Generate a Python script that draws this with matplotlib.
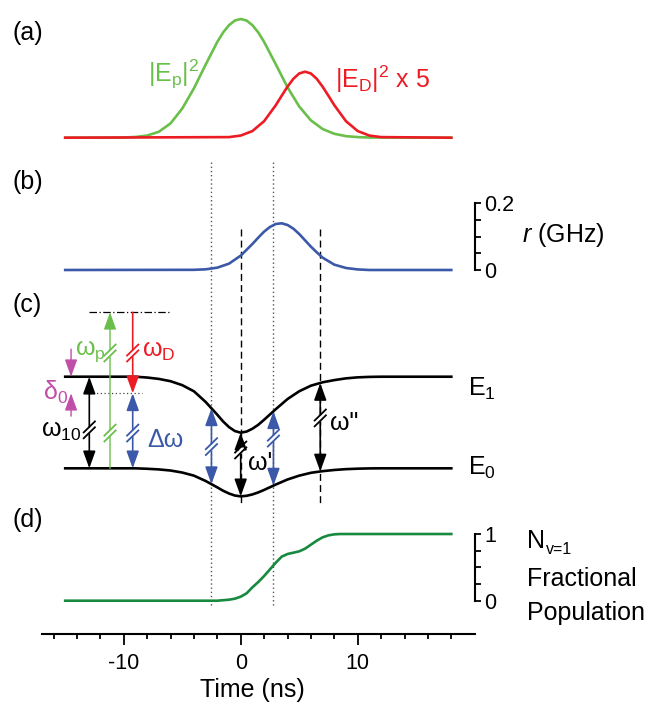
import numpy as np
import matplotlib
matplotlib.use("Agg")
import matplotlib.pyplot as plt

plt.rcParams["font.family"] = ["Liberation Sans", "DejaVu Sans"]
plt.rcParams["mathtext.fontset"] = "custom"
plt.rcParams["mathtext.rm"] = "Liberation Sans"
plt.rcParams["mathtext.it"] = "Liberation Sans:italic"
plt.rcParams["mathtext.bf"] = "Liberation Sans:bold"

# ---- data (time in ns) ----
# (a) pulse intensities, normalised to the pump peak
t_pump = [-15, -11, -10, -9, -8, -7, -6, -5, -4, -3, -2, -1.5, -1, -0.5, 0,
          0.5, 1, 1.5, 2, 3, 4, 5, 6, 7, 8, 9, 10, 11, 18]
pump = [0, 0.001, 0.002, 0.006, 0.018, 0.05, 0.12, 0.245, 0.415, 0.615, 0.807,
        0.887, 0.948, 0.987, 1.0, 0.987, 0.948, 0.887, 0.807, 0.618, 0.425, 0.263,
        0.146, 0.073, 0.033, 0.013, 0.005, 0.0015, 0]
t_dump = [-15, -1, 0, 1, 2, 3, 3.5, 4, 4.5, 5, 5.5, 6, 6.5, 7, 7.5, 8, 9, 10, 11, 12, 18]
dump = [0, 0.005, 0.018, 0.056, 0.139, 0.274, 0.353, 0.43, 0.496, 0.541, 0.556,
        0.541, 0.496, 0.43, 0.353, 0.274, 0.139, 0.056, 0.018, 0.005, 0]

# (b) r in GHz
t_r = [-15, -4, -3, -2, -1, 0, 1, 1.5, 2, 2.5, 3, 3.5, 4, 4.5, 5, 5.5, 6, 6.5, 7,
       8, 9, 10, 11, 18]
r_ghz = [0, 0.0005, 0.002, 0.007, 0.019, 0.043, 0.078, 0.097, 0.115, 0.129, 0.138,
         0.14, 0.135, 0.124, 0.108, 0.089, 0.07, 0.053, 0.037, 0.016, 0.006,
         0.0017, 0, 0]

# (c) dressed levels (E0 = 0, E1 = 1 far from the pulses)
t_lev = [-15, -9, -8, -7, -6, -5, -4, -3, -2, -1.5, -1, -0.5, 0, 0.5, 1, 1.5, 2,
         3, 4, 5, 6, 7, 8, 9, 10, 11, 12, 18]
e1 = [1.0, 1.0, 0.991, 0.976, 0.951, 0.908, 0.841, 0.725, 0.585, 0.511, 0.450,
      0.407, 0.389, 0.401, 0.432, 0.475, 0.530, 0.646, 0.756, 0.841, 0.902, 0.939,
      0.963, 0.982, 0.993, 0.998, 1.0, 1.0]
e0 = [0, 0, -0.005, -0.012, -0.024, -0.046, -0.080, -0.138, -0.208, -0.245, -0.275,
      -0.297, -0.306, -0.300, -0.285, -0.263, -0.236, -0.177, -0.122, -0.080,
      -0.049, -0.031, -0.018, -0.009, -0.004, -0.001, 0, 0]
photon_top = 1.703      # level reached by the pump photon
dump_level = 0.819      # level reached after the dump photon

# (d) fractional population of v=1
t_pop = [-15, -2, -1, -0.5, 0, 0.5, 1, 1.5, 2, 2.5, 3, 3.5, 4, 4.5, 5, 5.5, 6,
         6.5, 7, 7.5, 8, 8.5, 18]
pop = [0, 0, 0.015, 0.03, 0.06, 0.11, 0.2, 0.28, 0.37, 0.47, 0.57, 0.66, 0.7,
       0.72, 0.74, 0.78, 0.84, 0.9, 0.95, 0.98, 0.995, 1.0, 1.0]

time_major = [-10, 0, 10]
time_minor = list(range(-16, 19, 2))
dotted_t = [-2.5, 2.8]
dashed_t = [0, 6.8]

GREEN = "#6abf4b"
RED = "#ed1c24"
BLUE = "#3b59a8"
DKGREEN = "#178a3f"
MAGENTA = "#c04fa8"

W, H = 657, 716
fig = plt.figure(figsize=(W / 100, H / 100), dpi=100)

X0, X1 = 41.8, 474.7          # pixel span of t = -17 .. 20
TMIN, TMAX = -17, 20


def add_panel(top, bottom, y_at_bottom, y_at_top):
    ax = fig.add_axes([X0 / W, 1 - bottom / H, (X1 - X0) / W, (bottom - top) / H])
    ax.set_xlim(TMIN, TMAX)
    ax.set_ylim(y_at_bottom, y_at_top)
    ax.patch.set_alpha(0)
    for s in ax.spines.values():
        s.set_visible(False)
    ax.set_xticks([])
    ax.set_yticks([])
    return ax


def fig_text(x, y, s, **kw):
    fig.text(x / W, 1 - y / H, s, **kw)


# vertical guide lines span several panels -> own overlay axes in pixels
ax_v = fig.add_axes([X0 / W, 0, (X1 - X0) / W, 1])
ax_v.set_xlim(TMIN, TMAX)
ax_v.set_ylim(H, 0)
ax_v.axis("off")
ax_v.vlines(dotted_t, 162, 607, colors="#555555", linestyles=(0, (1, 2)), lw=1.0)
ax_v.vlines(dashed_t, 229, 506, colors="black", linestyles=(0, (5, 3)), lw=1.0)

# ---- (a) ----
ax_a = add_panel(0, 150, -0.1036, 1.160)
ax_a.plot(t_pump, pump, color=GREEN, lw=1.9)
ax_a.plot(t_dump, dump, color=RED, lw=1.9)
ax_a.text(-7.92, 0.472, r"$\mathregular{|E_p|^2}$", color=GREEN, fontsize=18,
          ha="left", va="baseline")
ax_a.text(8.06, 0.416, r"$\mathregular{|E_D|^2}$ x 5", color=RED, fontsize=18,
          ha="left", va="baseline")

# ---- (b) ----
ax_b = add_panel(150, 290, -0.06, 0.3598)
ax_b.plot(t_r, r_ghz, color=BLUE, lw=1.9)
ax_b.spines["right"].set_visible(True)
ax_b.spines["right"].set_bounds(0, 0.2)
ax_b.spines["right"].set_linewidth(1.5)
ax_b.yaxis.tick_right()
ax_b.set_yticks([0, 0.05, 0.1, 0.15, 0.2], ["0", "", "", "", "0.2"])
ax_b.tick_params(axis="y", direction="out", length=4, width=1.3, pad=3,
                 labelsize=15.5)
ax_b.text(24.0, 0.085, r"$\mathit{r}$ (GHz)", fontsize=18, ha="left",
          va="baseline")

# ---- (c) ----
ax_c = add_panel(290, 510, -0.455, 1.9465)
ax_c.plot(t_lev, e1, color="black", lw=1.9)
ax_c.plot(t_lev, e0, color="black", lw=1.9)
ax_c.plot([-13, -6], [photon_top, photon_top], color="black", lw=0.9,
          ls=(0, (6, 2, 1, 2)))
ax_c.plot([-13, -8.4], [dump_level, dump_level], color="#444444", lw=0.9,
          ls=(0, (1, 2)))


def arrow(t, y_from, y_to, color, style="-|>", lw=1.2):
    ax_c.annotate("", xy=(t, y_to), xytext=(t, y_from),
                  arrowprops=dict(arrowstyle=style + ",head_length=1.05,head_width=0.38",
                                  mutation_scale=10, color=color, lw=lw,
                                  shrinkA=0, shrinkB=0), zorder=3)


def break_mark(t, y, color):
    dy = 0.032
    ax_c.plot([t, t], [y - dy, y + dy], color="white", lw=3.5, zorder=4,
              solid_capstyle="butt")
    for off in (-dy, dy):
        ax_c.plot([t - 0.48, t + 0.48], [y + off - 0.06, y + off + 0.06],
                  color=color, lw=1.3, zorder=5)


t_w10, t_p, t_d = -12.94, -11.17, -9.23
arrow(t_w10, 0, 1, "black", "<|-|>")
arrow(t_p, 0, photon_top, GREEN, lw=1.0)
arrow(t_d, photon_top, dump_level, RED)
arrow(t_d, dump_level, 0, BLUE, "<|-|>")
for tt in dotted_t:
    arrow(tt, np.interp(tt, t_lev, e0), np.interp(tt, t_lev, e1), BLUE, "<|-|>")
for tt in dashed_t:
    arrow(tt, np.interp(tt, t_lev, e0), np.interp(tt, t_lev, e1), "black", "<|-|>")

break_mark(t_w10, 0.42, "black")
break_mark(t_p, 1.259, GREEN)
break_mark(t_p, 0.385, GREEN)
break_mark(t_d, 1.259, RED)
break_mark(t_d, 0.385, BLUE)
break_mark(-2.5, 0.237, BLUE)
break_mark(2.8, 0.33, BLUE)
break_mark(0, 0.2, "black")
break_mark(6.8, 0.55, "black")

# detuning marks
arrow(-14.5, 1.30, 1.0, MAGENTA, lw=1.0)
arrow(-14.5, 0.57, dump_level, MAGENTA, lw=1.0)

ax_c.text(-11.5, 1.237, r"$\mathregular{ω_p}$", color=GREEN, fontsize=18,
          ha="right", va="baseline")
ax_c.text(-8.44, 1.218, r"$\mathregular{ω_D}$", color=RED, fontsize=18,
          ha="left", va="baseline")
ax_c.text(-16.9, 0.746, r"$\mathregular{δ_0}$", color=MAGENTA, fontsize=18,
          ha="left", va="baseline")
ax_c.text(-13.6, 0.342, r"$\mathregular{ω_{10}}$", color="black", fontsize=18,
          ha="right", va="baseline")
ax_c.text(-8.0, 0.233, "Δω", color=BLUE, fontsize=18, ha="left", va="baseline")
ax_c.text(0.65, -0.018, "ω'", color="black", fontsize=18, ha="left",
          va="baseline")
ax_c.text(7.6, 0.418, 'ω"', color="black", fontsize=18, ha="left",
          va="baseline")
ax_c.text(19.45, 0.789, r"$\mathregular{E_1}$", fontsize=18, ha="left",
          va="baseline")
ax_c.text(19.45, -0.073, r"$\mathregular{E_0}$", fontsize=18, ha="left",
          va="baseline")

# ---- (d) ----
ax_d = add_panel(510, 634, -0.4993, 1.36)
ax_d.plot(t_pop, pop, color=DKGREEN, lw=1.9)
ax_d.spines["right"].set_visible(True)
ax_d.spines["right"].set_bounds(0, 1)
ax_d.spines["right"].set_linewidth(1.5)
ax_d.yaxis.tick_right()
ax_d.set_yticks([0, 0.25, 0.5, 0.75, 1], ["0", "", "", "", "1"])
ax_d.tick_params(axis="y", direction="out", length=4, width=1.3, pad=3,
                 labelsize=15.5)

ax_d.spines["bottom"].set_visible(True)
ax_d.spines["bottom"].set_linewidth(1.5)
ax_d.set_xticks(time_major, [str(v) for v in time_major])
ax_d.set_xticks(time_minor, minor=True)
ax_d.tick_params(axis="x", which="major", direction="out", length=8, width=1.3,
                 pad=6, labelsize=15.5)
ax_d.tick_params(axis="x", which="minor", direction="out", length=3.6, width=1.3)

fig_text(252, 690, "Time (ns)", fontsize=18, ha="center", va="center")
fig_text(527, 548, "N", fontsize=18, ha="left", va="baseline")
fig_text(546, 554, "v=1", fontsize=11.5, ha="left", va="baseline")
fig_text(527, 586, "Fractional", fontsize=18, ha="left", va="baseline")
fig_text(527, 620, "Population", fontsize=18, ha="left", va="baseline")

# panel letters
for lab, y in [("(a)", 33), ("(b)", 182), ("(c)", 305), ("(d)", 520)]:
    fig_text(12, y, lab, fontsize=18, ha="left", va="center")

fig.savefig("out.png", dpi=100)
